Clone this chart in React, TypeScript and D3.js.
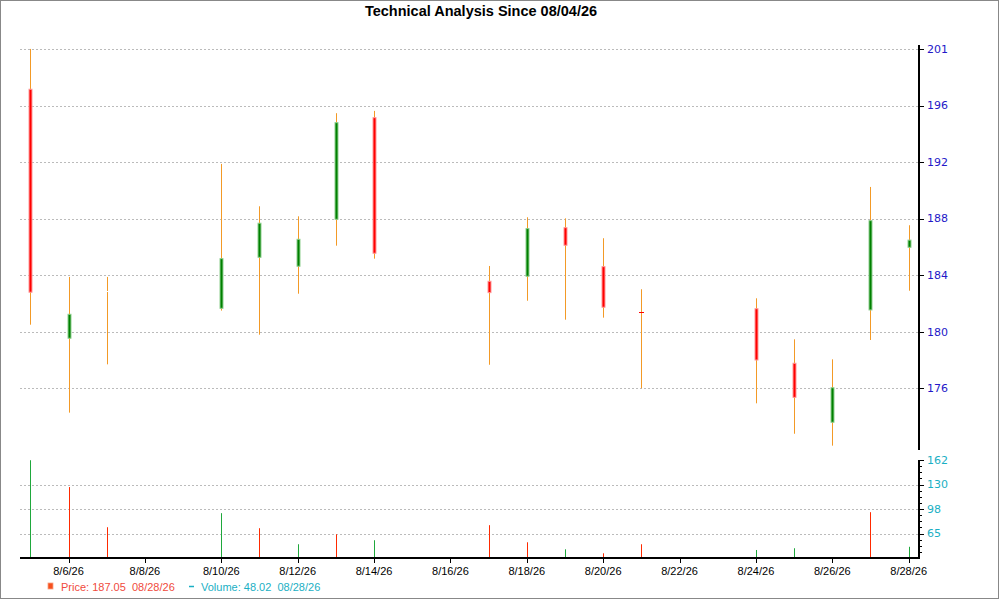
import { useRef, useEffect } from 'react';
import * as d3 from 'd3';

// daily bars
const dates = [
  '2026-08-05', '2026-08-06', '2026-08-07', '2026-08-10', '2026-08-11', '2026-08-12',
  '2026-08-13', '2026-08-14', '2026-08-17', '2026-08-18', '2026-08-19', '2026-08-20',
  '2026-08-21', '2026-08-24', '2026-08-25', '2026-08-26', '2026-08-27', '2026-08-28',
];
const opens = [198.2, 179.8, 183.29, 182.01, 185.78, 185.12, 188.59, 196.1, 184.01, 184.38, 187.97, 185.09, 181.8, 181.98, 177.95, 173.59, 181.89, 186.52];
const highs = [201.18, 184.33, 184.33, 192.68, 189.55, 188.81, 196.43, 196.6, 185.14, 188.74, 188.66, 187.19, 183.42, 182.75, 179.72, 178.24, 190.98, 188.15];
const lows = [180.8, 174.3, 177.87, 181.84, 180.06, 183.09, 186.64, 185.68, 177.84, 182.57, 181.17, 181.32, 176.1, 174.99, 172.74, 171.86, 179.67, 183.31];
const closes = [183.2, 181.57, 183.29, 185.68, 188.3, 187.11, 195.73, 186.08, 183.17, 187.9, 186.67, 182.09, 181.76, 178.19, 175.43, 176.14, 188.49, 187.05];
const volumes = [162.5, 127.0, 73.9, 92.5, 72.6, 51.4, 64.6, 56.7, 76.6, 54.0, 44.7, 39.4, 51.4, 43.8, 46.1, 33.4, 93.8, 48.02];
const volumeUp = [true, false, false, true, false, true, false, true, false, false, true, false, false, true, true, true, false, true];

// axis ticks
const priceTicks = [176.1, 180.28, 184.46, 188.64, 192.82, 196.99, 201.17];
const priceTickLabels = ['176', '180', '184', '188', '192', '196', '201'];
const priceDomain = [171.54, 201.47];
const volumeTicks = [65.6, 98.0, 130.4, 162.8];
const volumeTickLabels = ['65', '98', '130', '162'];
const volumeDomain = [33.2, 162.8];
const xTickDates = [
  '2026-08-06', '2026-08-08', '2026-08-10', '2026-08-12', '2026-08-14', '2026-08-16',
  '2026-08-18', '2026-08-20', '2026-08-22', '2026-08-24', '2026-08-26', '2026-08-28',
];

const title = 'Technical Analysis Since 08/04/26';
const priceLegend = 'Price: 187.05  08/28/26';
const volumeLegend = 'Volume: 48.02  08/28/26';

const App = () => {
  const svgRef = useRef(null);
  const width = 1000;
  const height = 600;

  useEffect(() => {
    const svg = d3.select(svgRef.current);
    svg.selectAll('*').remove();

    const parse = d3.timeParse('%Y-%m-%d');
    const bars = dates.map((d, i) => ({
      date: parse(d) as Date,
      open: opens[i],
      high: highs[i],
      low: lows[i],
      close: closes[i],
      volume: volumes[i],
      up: volumeUp[i],
    }));

    const left = 20;
    const right = 919;
    const priceTop = 45;
    const priceBottom = 450;
    const volTop = 460;
    const volBottom = 558;
    const pad = 6.5 * 3600e3;

    const first = bars[0].date.getTime();
    const last = bars[bars.length - 1].date.getTime();
    const x = d3
      .scaleTime()
      .domain([new Date(first - pad), new Date(last + pad)])
      .range([left, right]);
    const y = d3.scaleLinear().domain(priceDomain).range([priceBottom, priceTop]);
    const yv = d3.scaleLinear().domain(volumeDomain).range([volBottom, volTop]);

    const font = "Arial, 'Liberation Sans', sans-serif";
    const axisFont = "Tahoma, 'DejaVu Sans', sans-serif";
    const px = (d: Date) => Math.round(x(d)) + 0.5;

    // frame
    svg.append('rect')
      .attr('x', 0.5).attr('y', 0.5)
      .attr('width', width - 2).attr('height', height - 2)
      .attr('fill', 'white').attr('stroke', '#888');

    // title
    svg.append('text')
      .attr('x', 481).attr('y', 16)
      .attr('text-anchor', 'middle')
      .attr('font-family', font).attr('font-weight', 'bold').attr('font-size', 14.5)
      .text(title);

    // price gridlines
    svg.append('g').selectAll('line')
      .data(priceTicks)
      .join('line')
      .attr('x1', left).attr('x2', right)
      .attr('y1', (d) => Math.round(y(d)) + 0.5).attr('y2', (d) => Math.round(y(d)) + 0.5)
      .attr('stroke', '#bbb').attr('stroke-dasharray', '2,2');

    // volume gridlines (not at the top tick)
    svg.append('g').selectAll('line')
      .data(volumeTicks.slice(0, -1))
      .join('line')
      .attr('x1', left).attr('x2', right)
      .attr('y1', (d) => Math.round(yv(d)) + 0.5).attr('y2', (d) => Math.round(yv(d)) + 0.5)
      .attr('stroke', '#bbb').attr('stroke-dasharray', '2,2');

    // wicks
    const candles = svg.append('g');
    candles.selectAll('line.wick')
      .data(bars)
      .join('line')
      .attr('class', 'wick')
      .attr('x1', (d) => px(d.date)).attr('x2', (d) => px(d.date))
      .attr('y1', (d) => y(d.high)).attr('y2', (d) => y(d.low))
      .attr('stroke', '#f39a26').attr('stroke-width', 1);

    // bodies; near-flat ones become a thin tick
    const bodyColor = (d) => (d.close > d.open ? '#008000' : d.close < d.open ? '#ff0000' : 'white');
    const flat = (d) => Math.abs(y(d.open) - y(d.close)) < 2;
    candles.selectAll('rect.body')
      .data(bars.filter((d) => !flat(d)))
      .join('rect')
      .attr('class', 'body')
      .attr('x', (d) => px(d.date) - 1.5)
      .attr('width', 3)
      .attr('y', (d) => y(Math.max(d.open, d.close)))
      .attr('height', (d) => Math.abs(y(d.open) - y(d.close)))
      .attr('fill', bodyColor)
      .attr('stroke', (d) => (d.close > d.open ? '#8fcf8f' : '#ff9a9a'))
      .attr('stroke-width', 1);
    candles.selectAll('rect.flat')
      .data(bars.filter(flat))
      .join('rect')
      .attr('class', 'flat')
      .attr('x', (d) => px(d.date) - (d.close === d.open ? 1 : 2.5))
      .attr('width', (d) => (d.close === d.open ? 2 : 5))
      .attr('y', (d) => Math.round(y(d.close)))
      .attr('height', 1)
      .attr('fill', bodyColor);

    // volume bars
    svg.append('g').selectAll('line')
      .data(bars)
      .join('line')
      .attr('x1', (d) => px(d.date)).attr('x2', (d) => px(d.date))
      .attr('y1', volBottom).attr('y2', (d) => yv(d.volume))
      .attr('stroke', (d) => (d.up ? '#1fa83c' : '#ff2a00'));

    // price axis
    const pa = svg.append('g');
    pa.append('line')
      .attr('x1', right).attr('x2', right)
      .attr('y1', priceTop).attr('y2', priceBottom)
      .attr('stroke', 'black').attr('stroke-width', 2);
    pa.selectAll('line.tick')
      .data(priceTicks)
      .join('line')
      .attr('class', 'tick')
      .attr('x1', right).attr('x2', right + 5)
      .attr('y1', (d) => Math.round(y(d)) + 0.5).attr('y2', (d) => Math.round(y(d)) + 0.5)
      .attr('stroke', 'black');
    pa.selectAll('text')
      .data(priceTicks)
      .join('text')
      .attr('x', right + 8)
      .attr('y', (d) => y(d))
      .attr('dy', '0.35em')
      .attr('font-family', axisFont).attr('font-size', 11)
      .attr('fill', '#2418c8')
      .text((_, i) => priceTickLabels[i]);

    // volume axis
    const va = svg.append('g');
    va.append('line')
      .attr('x1', right).attr('x2', right)
      .attr('y1', volTop).attr('y2', volBottom)
      .attr('stroke', 'black').attr('stroke-width', 2);
    const step = (volumeTicks[1] - volumeTicks[0]) / 4;
    const minor = d3.range(volumeDomain[0] + step, volumeDomain[1] + 0.01, step);
    va.selectAll('line.minor')
      .data(minor)
      .join('line')
      .attr('class', 'minor')
      .attr('x1', right).attr('x2', right + 3)
      .attr('y1', (d) => Math.round(yv(d)) + 0.5).attr('y2', (d) => Math.round(yv(d)) + 0.5)
      .attr('stroke', 'black');
    va.selectAll('line.major')
      .data(volumeTicks)
      .join('line')
      .attr('class', 'major')
      .attr('x1', right).attr('x2', right + 5)
      .attr('y1', (d) => Math.round(yv(d)) + 0.5).attr('y2', (d) => Math.round(yv(d)) + 0.5)
      .attr('stroke', 'black');
    va.selectAll('text')
      .data(volumeTicks)
      .join('text')
      .attr('x', right + 8)
      .attr('y', (d) => yv(d))
      .attr('dy', '0.35em')
      .attr('font-family', axisFont).attr('font-size', 11)
      .attr('fill', '#1aafc4')
      .text((_, i) => volumeTickLabels[i]);

    // x axis
    const fmt = d3.timeFormat('%-m/%-d/%y');
    const xTicks = xTickDates.map((d) => parse(d) as Date);
    const xa = svg.append('g');
    xa.append('line')
      .attr('x1', left).attr('x2', right + 1)
      .attr('y1', volBottom).attr('y2', volBottom)
      .attr('stroke', 'black').attr('stroke-width', 2);
    xa.selectAll('line.tick')
      .data(xTicks)
      .join('line')
      .attr('class', 'tick')
      .attr('x1', (d) => px(d)).attr('x2', (d) => px(d))
      .attr('y1', volBottom).attr('y2', volBottom + 5)
      .attr('stroke', 'black');
    xa.selectAll('text')
      .data(xTicks)
      .join('text')
      .attr('x', (d) => x(d))
      .attr('y', 575)
      .attr('text-anchor', 'middle')
      .attr('font-family', font).attr('font-size', 11)
      .attr('fill', 'black')
      .text((d) => fmt(d));

    // legend
    const lg = svg.append('g').attr('font-family', font).attr('font-size', 11);
    lg.append('rect')
      .attr('x', 48).attr('y', 583).attr('width', 5).attr('height', 6)
      .attr('fill', '#f5501e').attr('stroke', '#f9a080').attr('stroke-width', 0.8);
    lg.append('text')
      .attr('x', 61).attr('y', 591)
      .attr('xml:space', 'preserve')
      .style('white-space', 'pre')
      .attr('fill', '#f04a3c')
      .text(priceLegend);
    lg.append('line')
      .attr('x1', 189).attr('x2', 194).attr('y1', 586.5).attr('y2', 586.5)
      .attr('stroke', '#1aafc4').attr('stroke-width', 1.5);
    lg.append('text')
      .attr('x', 201).attr('y', 591)
      .attr('xml:space', 'preserve')
      .style('white-space', 'pre')
      .attr('fill', '#1aafc4')
      .text(volumeLegend);
  }, []);

  return (
    <svg
      ref={svgRef}
      width={width}
      height={height}
      style={{ position: 'absolute', left: 0, top: 0 }}
    />
  );
};

export default App;
